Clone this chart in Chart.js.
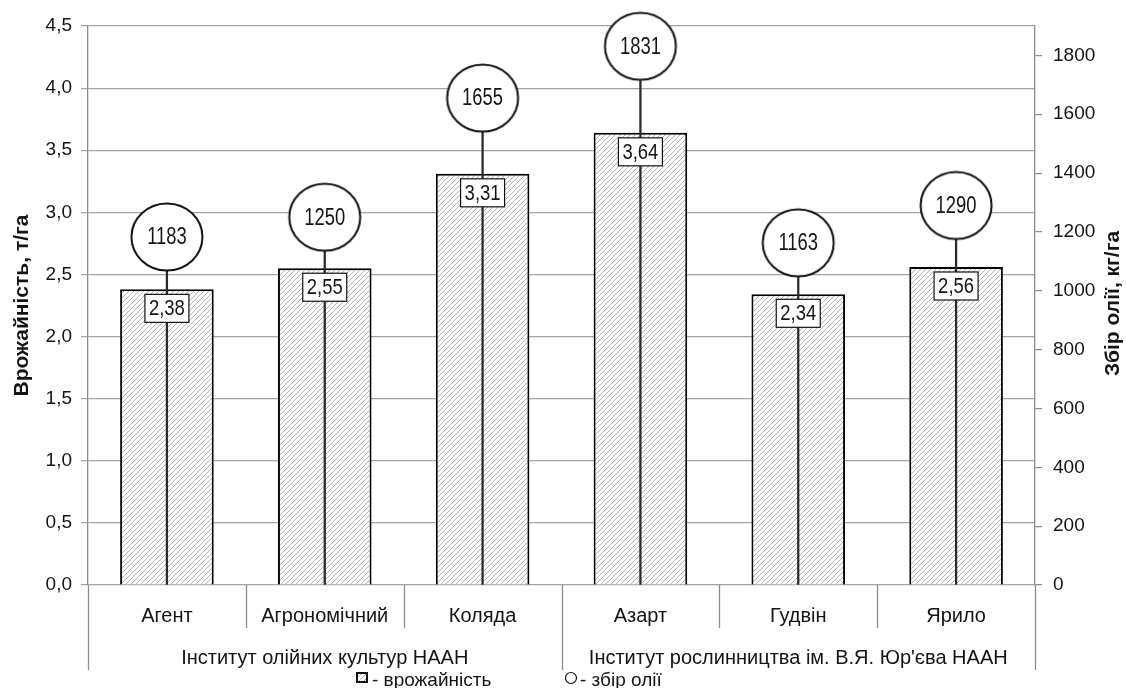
<!DOCTYPE html>
<html>
<head>
<meta charset="utf-8">
<script src="https://cdn.jsdelivr.net/npm/chart.js@4.4.0/dist/chart.umd.min.js"></script>
<style>
  html, body { margin: 0; padding: 0; background: #fff; }
  canvas { display: block; }
</style>
</head>
<body>
<canvas id="chart" width="1126" height="688"></canvas>
<script>
// Varieties and the institutes that bred them
const categories = ['Агент', 'Агрономічний', 'Коляда', 'Азарт', 'Гудвін', 'Ярило'];
const groupNames = ['Інститут олійних культур НААН', "Інститут рослинництва ім. В.Я. Юр'єва НААН"];
const groupSizes = [3, 3];

// Seed yield, t/ha (bars, left axis)
const yieldValues = [2.38, 2.55, 3.31, 3.64, 2.34, 2.56];
// Oil yield, kg/ha (circles, right axis)
const oilValues = [1183, 1250, 1655, 1831, 1163, 1290];

// Axis ticks
const yieldTicks = [0, 0.5, 1.0, 1.5, 2.0, 2.5, 3.0, 3.5, 4.0, 4.5];
const oilTicks = [0, 200, 400, 600, 800, 1000, 1200, 1400, 1600, 1800];

const yieldTitle = 'Врожайність, т/га';
const oilTitle = 'Збір олії, кг/га';
const legendTexts = ['- врожайність', '- збір олії'];

const FONT = '"Liberation Sans", Arial, sans-serif';
const INK = '#141414';
const AXIS_GREY = '#8c8c8c';

const canvas = document.getElementById('chart');
const mainCtx = canvas.getContext('2d');

// Diagonal hatch fill for the bars
function makeHatch() {
  const s = 5;
  const c = document.createElement('canvas');
  c.width = s; c.height = s;
  const g = c.getContext('2d');
  g.fillStyle = '#ffffff';
  g.fillRect(0, 0, s, s);
  g.strokeStyle = '#b2b2b2';
  g.lineWidth = 1;
  g.beginPath();
  g.moveTo(-1, s + 1); g.lineTo(s + 1, -1);
  g.moveTo(-1, 1); g.lineTo(1, -1);
  g.moveTo(s - 1, s + 1); g.lineTo(s + 1, s - 1);
  g.stroke();
  return mainCtx.createPattern(c, 'repeat');
}
const hatch = makeHatch();

// White ring used as the oil-yield marker
function makeRing() {
  const w = 76, h = 72;
  const c = document.createElement('canvas');
  c.width = w; c.height = h;
  const g = c.getContext('2d');
  g.beginPath();
  g.ellipse(w / 2, h / 2, 35.5, 33.5, 0, 0, Math.PI * 2);
  g.fillStyle = '#ffffff';
  g.fill();
  g.lineWidth = 2;
  g.strokeStyle = '#111';
  g.stroke();
  return c;
}
const ring = makeRing();

function condensedText(ctx, txt, x, y, size, sx) {
  ctx.save();
  ctx.translate(x, y);
  ctx.scale(sx, 1);
  ctx.font = size + 'px ' + FONT;
  ctx.textAlign = 'center';
  ctx.textBaseline = 'middle';
  ctx.fillStyle = INK;
  ctx.fillText(txt, 0, 0);
  ctx.restore();
}

const fmtComma = (v, d) => Number(v).toFixed(d).replace('.', ',');

// Value boxes on the bars and numbers inside the rings
const valueLabels = {
  id: 'valueLabels',
  afterDatasetDraw(chart, args) {
    const ctx = chart.ctx;
    if (args.index === 1) {
      const meta = chart.getDatasetMeta(0);
      meta.data.forEach((bar, i) => {
        const w = 44, h = 28;
        const x = bar.x - w / 2, y = bar.y + 5;
        ctx.save();
        ctx.fillStyle = '#ffffff';
        ctx.fillRect(x, y, w, h);
        ctx.lineWidth = 1.2;
        ctx.strokeStyle = '#111';
        ctx.strokeRect(x, y, w, h);
        ctx.restore();
        condensedText(ctx, fmtComma(yieldValues[i], 2), bar.x, y + h / 2 + 1, 22, 0.84);
      });
    }
    if (args.index === 2) {
      const meta = chart.getDatasetMeta(2);
      meta.data.forEach((pt, i) => {
        condensedText(ctx, String(oilValues[i]), pt.x, pt.y + 1, 23, 0.8);
      });
    }
  }
};

// Category separators, institute labels, axis titles and legend
const frame = {
  id: 'frame',
  afterDraw(chart) {
    const ctx = chart.ctx;
    const area = chart.chartArea;
    const xs = chart.scales.x;
    const n = categories.length;
    const edge = i => {
      if (i <= 0) return area.left;
      if (i >= n) return area.right;
      return (xs.getPixelForTick(i - 1) + xs.getPixelForTick(i)) / 2;
    };
    const groupEdges = [0];
    groupSizes.forEach(s => groupEdges.push(groupEdges[groupEdges.length - 1] + s));

    ctx.save();
    ctx.strokeStyle = AXIS_GREY;
    ctx.lineWidth = 1.3;
    for (let i = 0; i <= n; i++) {
      const x = Math.round(edge(i)) + 0.5;
      const isGroup = groupEdges.includes(i);
      ctx.beginPath();
      ctx.moveTo(x, area.bottom);
      ctx.lineTo(x, isGroup ? 670 : 628);
      ctx.stroke();
    }

    ctx.fillStyle = INK;
    ctx.font = '20px ' + FONT;
    ctx.textAlign = 'center';
    ctx.textBaseline = 'middle';
    groupNames.forEach((name, g) => {
      const cx = (edge(groupEdges[g]) + edge(groupEdges[g + 1])) / 2;
      ctx.fillText(name, cx, 658);
    });

    // axis titles
    ctx.font = 'bold 21px ' + FONT;
    ctx.save();
    ctx.translate(22, (area.top + area.bottom) / 2);
    ctx.rotate(-Math.PI / 2);
    ctx.fillText(yieldTitle, 0, 0);
    ctx.restore();
    ctx.save();
    ctx.translate(1113, (area.top + area.bottom) / 2 - 2);
    ctx.rotate(-Math.PI / 2);
    ctx.fillText(oilTitle, 0, 0);
    ctx.restore();

    // legend
    ctx.fillStyle = hatch;
    ctx.fillRect(357, 673, 10, 9);
    ctx.lineWidth = 2;
    ctx.strokeStyle = '#111';
    ctx.strokeRect(357, 673, 10, 9);
    ctx.beginPath();
    ctx.arc(571, 678, 5.5, 0, Math.PI * 2);
    ctx.lineWidth = 1.2;
    ctx.stroke();
    ctx.fillStyle = INK;
    ctx.font = '19px ' + FONT;
    ctx.textAlign = 'left';
    ctx.textBaseline = 'alphabetic';
    ctx.fillText(legendTexts[0], 372, 686);
    ctx.fillText(legendTexts[1], 580, 686);
    ctx.restore();
  }
};

Chart.defaults.font.family = FONT;
Chart.defaults.color = INK;

new Chart(mainCtx, {
  data: {
    labels: categories,
    datasets: [
      {
        type: 'bar',
        label: legendTexts[0],
        data: yieldValues,
        yAxisID: 'y',
        backgroundColor: hatch,
        borderColor: '#000',
        borderWidth: 2,
        barPercentage: 0.593,
        categoryPercentage: 1,
        grouped: false,
        order: 2
      },
      {
        type: 'bar',
        label: 'stem',
        data: oilValues.map(v => [0, v]),
        yAxisID: 'y2',
        backgroundColor: '#2a2a2a',
        barThickness: 1.6,
        grouped: false,
        order: 1
      },
      {
        type: 'line',
        label: legendTexts[1],
        data: oilValues,
        yAxisID: 'y2',
        showLine: false,
        pointStyle: ring,
        pointRadius: 34,
        clip: false,
        order: 0
      }
    ]
  },
  options: {
    responsive: false,
    animation: false,
    events: [],
    layout: { autoPadding: false, padding: { top: 26, left: 0, right: 0, bottom: 0 } },
    plugins: { legend: { display: false }, tooltip: { enabled: false } },
    scales: {
      x: {
        type: 'category',
        offset: true,
        grid: { display: false, drawTicks: false },
        border: { display: false },
        ticks: { font: { size: 20 }, color: INK, padding: 19, maxRotation: 0, autoSkip: false },
        afterFit(s) { s.height = 103; }
      },
      y: {
        position: 'left',
        min: 0,
        max: 4.5,
        afterBuildTicks(s) { s.ticks = yieldTicks.map(v => ({ value: v })); },
        grid: { color: '#a3a3a3', lineWidth: 1.2, tickLength: 7, drawTicks: true },
        border: { color: AXIS_GREY, width: 1.3 },
        ticks: { padding: 9, font: { size: 19 }, color: INK, callback: v => fmtComma(v, 1) },
        afterFit(s) { s.width = 88; }
      },
      y2: {
        position: 'right',
        min: 0,
        max: 1900,
        afterBuildTicks(s) { s.ticks = oilTicks.map(v => ({ value: v })); },
        grid: { drawOnChartArea: false, color: AXIS_GREY, lineWidth: 1.2, tickLength: 7 },
        border: { color: AXIS_GREY, width: 1.3 },
        ticks: { padding: 11, font: { size: 19 }, color: INK, callback: v => String(v) },
        afterFit(s) { s.width = 91; }
      }
    }
  },
  plugins: [valueLabels, frame]
});
</script>
</body>
</html>
